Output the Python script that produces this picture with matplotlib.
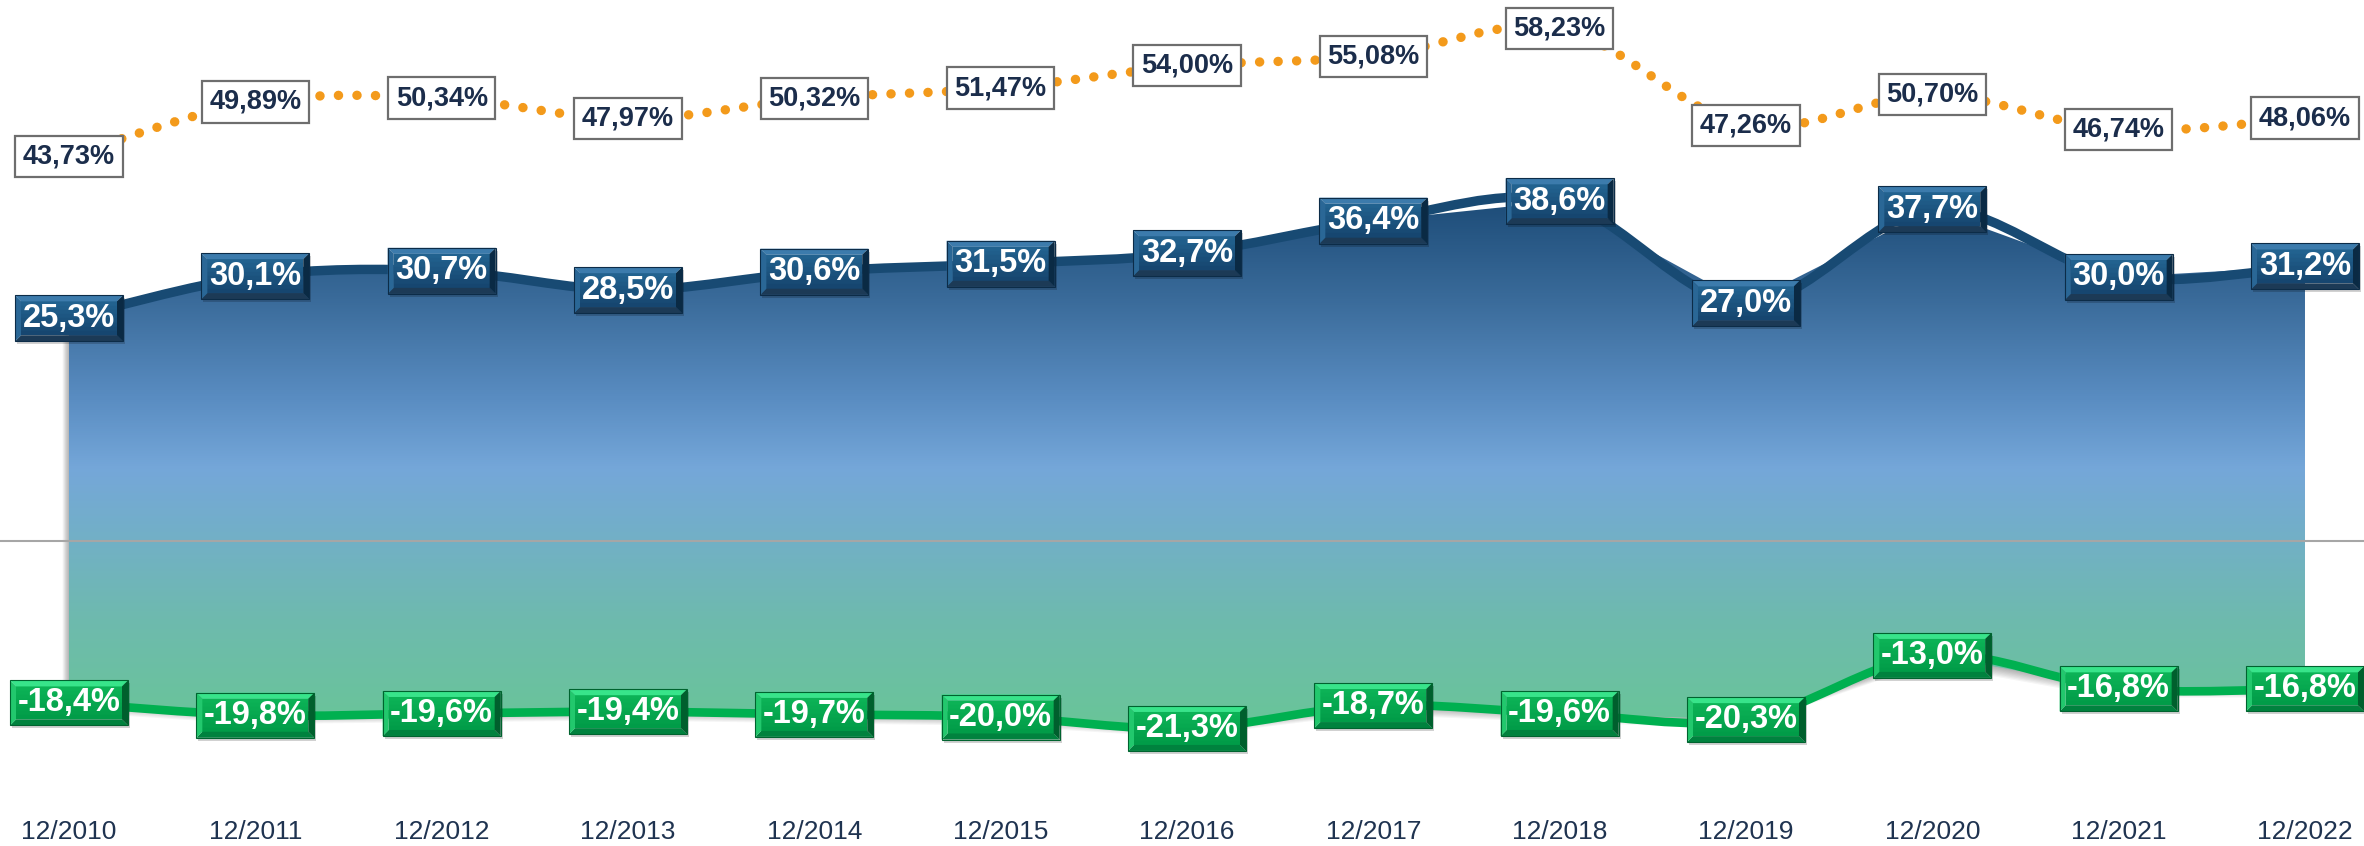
import numpy as np
import matplotlib
matplotlib.use("Agg")
import matplotlib.pyplot as plt
from matplotlib.path import Path
from matplotlib.patches import PathPatch, Polygon
from matplotlib.colors import LinearSegmentedColormap, to_rgb
from matplotlib.transforms import Affine2D, IdentityTransform

plt.rcParams['font.family'] = ['Liberation Sans', 'DejaVu Sans']

# Data
periods = ['12/2010', '12/2011', '12/2012', '12/2013', '12/2014', '12/2015', '12/2016',
           '12/2017', '12/2018', '12/2019', '12/2020', '12/2021', '12/2022']
top_pct = [43.73, 49.89, 50.34, 47.97, 50.32, 51.47, 54.00, 55.08, 58.23, 47.26, 50.70, 46.74, 48.06]
blue_pct = [25.3, 30.1, 30.7, 28.5, 30.6, 31.5, 32.7, 36.4, 38.6, 27.0, 37.7, 30.0, 31.2]
green_pct = [-18.4, -19.8, -19.6, -19.4, -19.7, -20.0, -21.3, -18.7, -19.6, -20.3, -13.0, -16.8, -16.8]

W, H, DPI = 2364, 846, 100
fig = plt.figure(figsize=(W / DPI, H / DPI), dpi=DPI)
ax = fig.add_axes([0, 0, 1, 1])
ax.axis('off')

# 69 px to first category, 186.3 px per category, zero at 541 px, 8.8 px per point
ax.set_xlim(-69 / 186.3, 12 + (W - 2305) / 186.3)
ax.set_ylim(-(H - 541) / 8.8, 541 / 8.8)

x = np.arange(len(periods))


def smooth_path(xs, ys):
    pts = np.column_stack([xs, ys]).astype(float)
    n = len(pts)
    verts = [pts[0]]
    codes = [Path.MOVETO]
    for i in range(n - 1):
        p0 = pts[i - 1] if i > 0 else pts[i]
        p1, p2 = pts[i], pts[i + 1]
        p3 = pts[i + 2] if i + 2 < n else pts[i + 1]
        verts += [p1 + (p2 - p0) / 6, p2 - (p3 - p1) / 6, p2]
        codes += [Path.CURVE4] * 3
    return Path(verts, codes)


# area between blue and green series, with a soft drop shadow
area_verts = list(zip(x, blue_pct)) + list(zip(x[::-1], green_pct[::-1]))
for k in range(1, 9):
    sh = Polygon(area_verts, closed=True, facecolor='black', edgecolor='none',
                 alpha=0.04, zorder=1,
                 transform=ax.transData + Affine2D().translate(-0.8 * k, -1.1 * k))
    ax.add_patch(sh)

area = Polygon(area_verts, closed=True, facecolor='none', edgecolor='none', zorder=2)
ax.add_patch(area)

ymax, ymin = max(blue_pct), min(green_pct)
stops = [(38.6, '#1D4C78'), (27.4, '#3A6B9A'), (16.0, '#5A8DC2'), (8.1, '#75A7D9'),
         (0.0, '#72B0C6'), (-9.0, '#6EBAAE'), (-21.3, '#69C598')]
cmap = LinearSegmentedColormap.from_list(
    'area', [((ymax - v) / (ymax - ymin), c) for v, c in stops])
grad = np.linspace(0, 1, 512).reshape(-1, 1)
img = ax.imshow(grad, cmap=cmap, aspect='auto', extent=[0, 12, ymin, ymax],
                origin='upper', zorder=2, interpolation='bilinear')
img.set_clip_path(area)

# zero line
ax.axhline(0, color='#A6A6A6', lw=1.5, zorder=3)

# series lines
ax.add_patch(PathPatch(smooth_path(x, blue_pct), facecolor='none', edgecolor='#184A73',
                       lw=6.8, zorder=4, joinstyle='round'))
ax.add_patch(PathPatch(smooth_path(x, green_pct), facecolor='none', edgecolor='#00B050',
                       lw=6.2, zorder=4, joinstyle='round'))
dots = PathPatch(smooth_path(x, top_pct), facecolor='none', edgecolor='#F39A1B',
                 lw=6.8, zorder=4, linestyle=(0, (0.01, 1.95)))
dots.set_capstyle('round')
ax.add_patch(dots)


def fmt(v, nd):
    return f"{v:.{nd}f}%".replace('.', ',')


def bevel_label(xv, yv, text, w, h, b, face_hi, face_lo, top, left, right, bottom, edge):
    cx, cy = ax.transData.transform((xv, yv))
    x0, x1, y0, y1 = cx - w / 2, cx + w / 2, cy - h / 2, cy + h / 2
    ident = IdentityTransform()
    # small shadow under the box
    ax.add_patch(Polygon([(x0 + 2, y0 - 3), (x1 + 2, y0 - 3), (x1 + 2, y1 - 3), (x0 + 2, y1 - 3)],
                         closed=True, facecolor='black', edgecolor='none', alpha=0.18,
                         transform=ident, zorder=5))
    # face with a vertical shade, drawn as strips
    hi, lo = np.array(to_rgb(face_hi)), np.array(to_rgb(face_lo))
    n = 8
    ys = np.linspace(y1 - b, y0 + b, n + 1)
    for i in range(n):
        col = hi + (lo - hi) * i / (n - 1)
        ax.add_patch(Polygon([(x0 + b, ys[i + 1]), (x1 - b, ys[i + 1]), (x1 - b, ys[i]), (x0 + b, ys[i])],
                             closed=True, facecolor=col, edgecolor=col, lw=0.3,
                             transform=ident, zorder=5))
    parts = [
        ([(x0, y1), (x1, y1), (x1 - b, y1 - b), (x0 + b, y1 - b)], top),
        ([(x0, y0), (x1, y0), (x1 - b, y0 + b), (x0 + b, y0 + b)], bottom),
        ([(x0, y0), (x0 + b, y0 + b), (x0 + b, y1 - b), (x0, y1)], left),
        ([(x1, y0), (x1 - b, y0 + b), (x1 - b, y1 - b), (x1, y1)], right),
    ]
    for verts, col in parts:
        ax.add_patch(Polygon(verts, closed=True, facecolor=col, edgecolor='none',
                             transform=ident, zorder=5))
    ax.add_patch(Polygon([(x0, y0), (x1, y0), (x1, y1), (x0, y1)], closed=True,
                         facecolor='none', edgecolor=edge, lw=0.8,
                         transform=ident, zorder=5))
    ax.text(xv, yv, text, ha='center', va='center', color='white', fontsize=23.5,
            fontweight='bold', zorder=6)


for xi, v in zip(x, top_pct):
    ax.text(xi, v, fmt(v, 2), ha='center', va='center', color='#1B2D4B', fontsize=19.5,
            fontweight='bold', zorder=6,
            bbox=dict(boxstyle='square,pad=0.28', facecolor='white', edgecolor='#6E6E6E',
                      lw=1.6))

for xi, v in zip(x, blue_pct):
    bevel_label(xi, v, fmt(v, 1), 108, 46, 6, '#22628F', '#164670', '#3C7BAC', '#2A6796',
                '#0A2A44', '#1C3A56', '#0C2C48')

for xi, v in zip(x, green_pct):
    bevel_label(xi, v, fmt(v, 1), 118, 45, 6, '#0CB256', '#019C48', '#38E48A', '#22C86D',
                '#005F2D', '#00823E', '#00632F')

label_y = (541 - 832) / 8.8
for xi, p in zip(x, periods):
    ax.text(xi, label_y, p, ha='center', va='center', color='#1F3350', fontsize=19)

fig.savefig('out.png', dpi=DPI, facecolor='white')
